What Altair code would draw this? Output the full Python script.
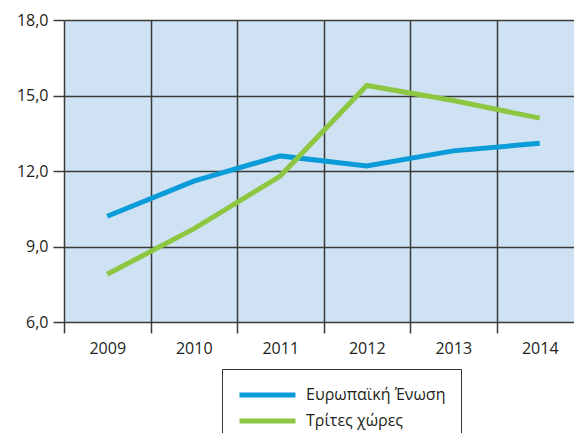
import altair as alt
import pandas as pd

years = ["2009", "2010", "2011", "2012", "2013", "2014"]
eu = [10.2, 11.6, 12.6, 12.2, 12.8, 13.1]
third = [7.9, 9.7, 11.8, 15.4, 14.8, 14.1]
series = ["Ευρωπαϊκή Ένωση", "Τρίτες χώρες"]
colors = ["#0a9bd9", "#8dc641"]
y_ticks = [6, 9, 12, 15, 18]

df = pd.DataFrame({
    "year": years * 2,
    "value": eu + third,
    "series": [series[0]] * len(years) + [series[1]] * len(years),
})

FONT = "Open Sans"
TXT = "#231f20"
GRID = "#3a3a3a"

chart = alt.Chart(df).mark_line(strokeWidth=5, strokeCap="butt").encode(
    x=alt.X(
        "year:O",
        bandPosition=0.5,
        scale=alt.Scale(type="band", paddingInner=0, paddingOuter=0, range=[0, 519]),
        axis=alt.Axis(
            title=None, labelAngle=0, tickBand="extent", grid=True,
            gridColor=GRID, gridWidth=1.5, tickSize=11, tickColor=GRID,
            tickWidth=1.5, labelPadding=7, domain=False, labelFontSize=16,
            labelFont=FONT, labelColor=TXT,
        ),
    ),
    y=alt.Y(
        "value:Q",
        scale=alt.Scale(domain=[6, 18], nice=False, zero=False),
        axis=alt.Axis(
            title=None, values=y_ticks,
            labelExpr="replace(format(datum.value, '.1f'), '.', ',')",
            grid=True, gridColor=GRID, gridWidth=1.5, tickSize=11,
            tickColor=GRID, tickWidth=1.5, labelPadding=5, domain=False,
            labelFontSize=16, labelFont=FONT, labelColor=TXT,
        ),
    ),
    color=alt.Color(
        "series:N",
        scale=alt.Scale(domain=series, range=colors),
        legend=alt.Legend(
            orient="none", legendX=158, legendY=349, title=None,
            symbolType="stroke", symbolSize=3136, symbolStrokeWidth=5,
            clipHeight=22, rowPadding=4, padding=15, labelOffset=8,
            strokeColor="#333333", fillColor="white", labelFontSize=16,
            labelFont=FONT, labelColor=TXT,
        ),
    ),
).properties(
    width=510,
    height=302,
    autosize="none",
    padding={"left": 56, "top": 12, "right": 0, "bottom": 111},
).configure_view(fill="#cee2f3", stroke="transparent")

chart.save("out.html", embed_options={"renderer": "svg", "actions": False})
